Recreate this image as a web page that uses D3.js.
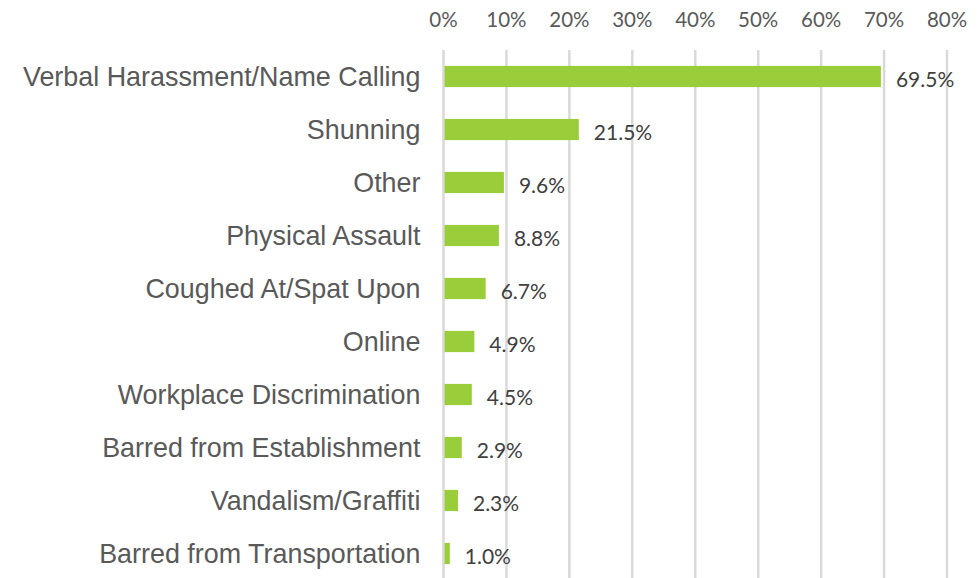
<!DOCTYPE html>
<html>
<head>
<meta charset="utf-8">
<script src="https://cdn.jsdelivr.net/npm/d3@7"></script>
<style>
  body { margin: 0; background: #fff; }
</style>
</head>
<body>
<div id="chart"></div>
<script>
var categories = ["Verbal Harassment/Name Calling", "Shunning", "Other", "Physical Assault",
    "Coughed At/Spat Upon", "Online", "Workplace Discrimination", "Barred from Establishment",
    "Vandalism/Graffiti", "Barred from Transportation"];
var values = [69.5, 21.5, 9.6, 8.8, 6.7, 4.9, 4.5, 2.9, 2.3, 1.0];
var tickValues = [0, 10, 20, 30, 40, 50, 60, 70, 80];

var margin = { top: 50, right: 32, bottom: -2, left: 443.5 },
    width = 979 - margin.left - margin.right,
    height = 578 - margin.top - margin.bottom;

var svg = d3.select("#chart")
    .append("svg")
    .attr("width", 979)
    .attr("height", 578)
    .append("g")
    .attr("transform", "translate(" + margin.left + "," + margin.top + ")");

var x = d3.scaleLinear()
    .domain([0, 80])
    .range([0, width]);

var y = d3.scaleBand()
    .domain(categories)
    .range([0, height])
    .paddingInner(0.6)
    .paddingOuter(0.3);

// gridlines
svg.append("g")
    .selectAll("line")
    .data(tickValues)
    .enter()
    .append("line")
    .attr("x1", function (d) { return x(d); })
    .attr("x2", function (d) { return x(d); })
    .attr("y1", 0)
    .attr("y2", height + 10)
    .attr("stroke", "#d9d9d9")
    .attr("stroke-width", 2.5);

// top axis labels
svg.append("g")
    .selectAll("text")
    .data(tickValues)
    .enter()
    .append("text")
    .attr("x", function (d) { return x(d); })
    .attr("y", -23)
    .attr("text-anchor", "middle")
    .attr("fill", "#595959")
    .style("font-family", "Lato, 'Open Sans', sans-serif")
    .style("font-size", "20.5px")
    .text(function (d) { return d + "%"; });

// bars
svg.selectAll(".bar")
    .data(values)
    .enter()
    .append("rect")
    .attr("class", "bar")
    .attr("x", x(0) + 1)
    .attr("y", function (d, i) { return y(categories[i]); })
    .attr("width", function (d) { return x(d) - x(0) - 1; })
    .attr("height", y.bandwidth())
    .attr("fill", "#9acd3a");

// value labels
svg.selectAll(".val")
    .data(values)
    .enter()
    .append("text")
    .attr("class", "val")
    .attr("x", function (d) { return x(d) + 15; })
    .attr("y", function (d, i) { return y(categories[i]) + y.bandwidth() / 2 + 3; })
    .attr("dy", "0.35em")
    .attr("fill", "#404040")
    .style("font-family", "Lato, 'Open Sans', sans-serif")
    .style("font-size", "21px")
    .text(function (d) { return d.toFixed(1) + "%"; });

// category labels
svg.selectAll(".cat")
    .data(categories)
    .enter()
    .append("text")
    .attr("class", "cat")
    .attr("x", -23)
    .attr("y", function (d) { return y(d) + y.bandwidth() / 2; })
    .attr("dy", "0.35em")
    .attr("text-anchor", "end")
    .attr("fill", "#595959")
    .style("font-family", "'Liberation Sans', Arial, sans-serif")
    .style("font-size", "26.9px")
    .text(function (d) { return d; });
</script>
</body>
</html>
